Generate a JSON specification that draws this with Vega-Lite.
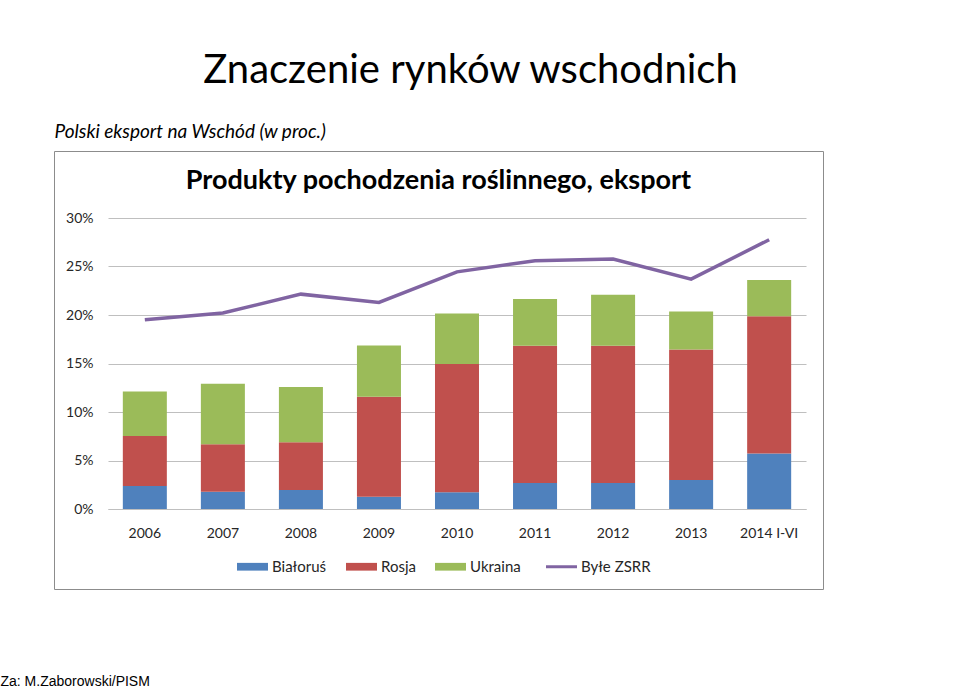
{
  "$schema": "https://vega.github.io/schema/vega-lite/v6.json",
  "padding": {"left": 0, "top": 50, "right": 0, "bottom": 0},
  "background": "white",
  "config": {
    "view": {"stroke": "#8c8c8c", "strokeWidth": 1},
    "font": "Lato",
    "concat": {"spacing": 0}
  },
  "datasets": {
    "d": [
      {"year": "2006", "series": "Białoruś", "value": 2.37},
      {"year": "2006", "series": "Rosja", "value": 5.16},
      {"year": "2006", "series": "Ukraina", "value": 4.58},
      {"year": "2006", "series": "Byłe ZSRR", "value": 19.5},
      {"year": "2007", "series": "Białoruś", "value": 1.79},
      {"year": "2007", "series": "Rosja", "value": 4.88},
      {"year": "2007", "series": "Ukraina", "value": 6.23},
      {"year": "2007", "series": "Byłe ZSRR", "value": 20.2},
      {"year": "2008", "series": "Białoruś", "value": 1.96},
      {"year": "2008", "series": "Rosja", "value": 4.92},
      {"year": "2008", "series": "Ukraina", "value": 5.71},
      {"year": "2008", "series": "Byłe ZSRR", "value": 22.15},
      {"year": "2009", "series": "Białoruś", "value": 1.27},
      {"year": "2009", "series": "Rosja", "value": 10.29},
      {"year": "2009", "series": "Ukraina", "value": 5.3},
      {"year": "2009", "series": "Byłe ZSRR", "value": 21.3},
      {"year": "2010", "series": "Białoruś", "value": 1.72},
      {"year": "2010", "series": "Rosja", "value": 13.24},
      {"year": "2010", "series": "Ukraina", "value": 5.2},
      {"year": "2010", "series": "Byłe ZSRR", "value": 24.45},
      {"year": "2011", "series": "Białoruś", "value": 2.68},
      {"year": "2011", "series": "Rosja", "value": 14.14},
      {"year": "2011", "series": "Ukraina", "value": 4.82},
      {"year": "2011", "series": "Byłe ZSRR", "value": 25.6},
      {"year": "2012", "series": "Białoruś", "value": 2.68},
      {"year": "2012", "series": "Rosja", "value": 14.14},
      {"year": "2012", "series": "Ukraina", "value": 5.26},
      {"year": "2012", "series": "Byłe ZSRR", "value": 25.77},
      {"year": "2013", "series": "Białoruś", "value": 2.99},
      {"year": "2013", "series": "Rosja", "value": 13.45},
      {"year": "2013", "series": "Ukraina", "value": 3.92},
      {"year": "2013", "series": "Byłe ZSRR", "value": 23.7},
      {"year": "2014 I-VI", "series": "Białoruś", "value": 5.71},
      {"year": "2014 I-VI", "series": "Rosja", "value": 14.17},
      {"year": "2014 I-VI", "series": "Ukraina", "value": 3.72},
      {"year": "2014 I-VI", "series": "Byłe ZSRR", "value": 27.76}
    ]
  },
  "title": {
    "text": "Za: M.Zaborowski/PISM",
    "orient": "bottom",
    "anchor": "start",
    "dx": -53,
    "offset": 85,
    "font": "Liberation Sans",
    "fontSize": 14,
    "fontWeight": "normal",
    "color": "#000000"
  },
  "vconcat": [
    {
      "title": {
        "text": "Znaczenie rynków wschodnich",
        "anchor": "middle",
        "fontSize": 40,
        "fontWeight": "normal",
        "font": "Lato",
        "offset": 32,
        "dx": 32,
        "color": "#000000"
      },
      "vconcat": [
        {
          "title": {
            "text": "Polski eksport na Wschód (w proc.)",
            "anchor": "start",
            "fontSize": 19,
            "fontStyle": "italic",
            "fontWeight": "normal",
            "offset": 9,
            "dx": 1,
            "color": "#000000"
          },
          "vconcat": [
            {
              "width": 769,
              "height": 438,
              "title": {
                "text": "Produkty pochodzenia roślinnego, eksport",
                "anchor": "middle",
                "fontSize": 27,
                "fontWeight": "bold",
                "offset": -44,
                "color": "#000000"
              },
              "data": {"name": "d"},
              "layer": [
                {
                  "transform": [{"filter": "datum.series !== 'Byłe ZSRR'"}],
                  "mark": {"type": "bar"},
                  "encoding": {
                    "x": {
                      "field": "year",
                      "type": "nominal",
                      "sort": null,
                      "scale": {"range": [54, 752], "paddingInner": 0.436, "paddingOuter": 0.19},
                      "axis": {
                        "title": null,
                        "labelAngle": 0,
                        "offset": -80,
                        "ticks": false,
                        "domainColor": "#BFBFBF",
                        "domainWidth": 1,
                        "labelFontSize": 14,
                        "labelColor": "#262626",
                        "labelPadding": 17,
                        "labelFont": "Lato"
                      }
                    },
                    "y": {
                      "field": "value",
                      "type": "quantitative",
                      "stack": "zero",
                      "scale": {"domain": [0, 30], "range": [358, 67], "nice": false, "zero": true},
                      "axis": {
                        "title": null,
                        "offset": -54,
                        "values": [0, 5, 10, 15, 20, 25, 30],
                        "labelExpr": "datum.value + '%'",
                        "domain": false,
                        "ticks": false,
                        "grid": true,
                        "gridColor": "#BFBFBF",
                        "gridWidth": 1,
                        "labelPadding": 15,
                        "labelFontSize": 14,
                        "labelColor": "#262626",
                        "labelFont": "Lato"
                      }
                    },
                    "order": {"field": "series", "sort": "ascending"},
                    "color": {
                      "field": "series",
                      "type": "nominal",
                      "scale": {
                        "domain": ["Białoruś", "Rosja", "Ukraina", "Byłe ZSRR"],
                        "range": ["#4F81BD", "#C0504D", "#9BBB59", "#8064A2"]
                      },
                      "legend": {
                        "title": null,
                        "orient": "none",
                        "direction": "horizontal",
                        "legendX": 191,
                        "legendY": 408,
                        "padding": 0,
                        "labelFontSize": 15,
                        "labelFont": "Lato",
                        "labelColor": "#262626",
                        "symbolSize": 960,
                        "labelOffset": 12,
                        "columnPadding": 19,
                        "encode": {
                          "symbols": {
                            "update": {
                              "shape": {"signal": "datum.value === 'Byłe ZSRR' ? 'M-1,0H1' : 'M-1,-0.25H1V0.25H-1Z'"},
                              "fill": [
                                {"test": "datum.value === 'Byłe ZSRR'", "value": "transparent"},
                                {"scale": "color", "field": "value"}
                              ],
                              "stroke": {"scale": "color", "field": "value"},
                              "strokeWidth": {"signal": "datum.value === 'Byłe ZSRR' ? 3 : 0"},
                              "opacity": {"value": 1}
                            }
                          }
                        }
                      }
                    }
                  }
                },
                {
                  "transform": [{"filter": "datum.series === 'Byłe ZSRR'"}],
                  "mark": {"type": "line", "strokeWidth": 3.5},
                  "encoding": {
                    "x": {"field": "year", "type": "nominal", "sort": null},
                    "y": {"field": "value", "type": "quantitative"},
                    "color": {"field": "series", "type": "nominal"}
                  }
                }
              ]
            }
          ]
        }
      ]
    }
  ]
}
